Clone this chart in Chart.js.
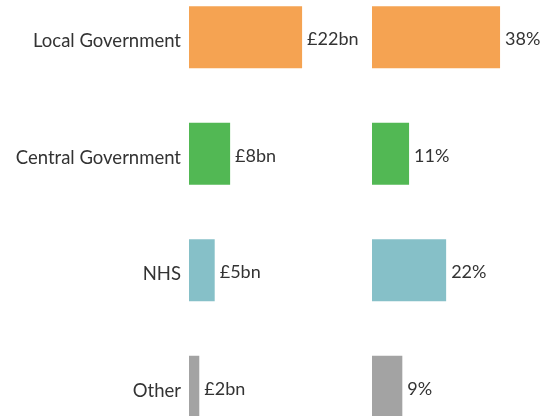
<!DOCTYPE html>
<html lang="en">
<head>
    <meta charset="UTF-8">
    <title>Spending by sector</title>
    <script src="https://cdn.jsdelivr.net/npm/chart.js"></script>
    <style>
        html, body { margin: 0; padding: 0; background: #fff; overflow: hidden; width: 556px; height: 416px; }
        .panel { position: absolute; top: -21px; height: 466px; }
        #leftPanel { left: 0; width: 372px; }
        #rightPanel { left: 372px; width: 184px; }
    </style>
</head>
<body>
    <div class="panel" id="leftPanel"><canvas id="amountChart" width="372" height="466"></canvas></div>
    <div class="panel" id="rightPanel"><canvas id="shareChart" width="184" height="466"></canvas></div>

<script>
const sectors = ['Local Government', 'Central Government', 'NHS', 'Other'];
const amountBn = [22, 8, 5, 2];
const amountLabels = ['£22bn', '£8bn', '£5bn', '£2bn'];
const sharePct = [38, 11, 22, 9];
const shareLabels = ['38%', '11%', '22%', '9%'];
const sectorColors = ['#f5a352', '#52b854', '#86c0c8', '#a3a3a3'];

const textColor = '#333333';
const fontSpec = { family: 'Lato', size: 18.5 };

// write the value text just right of each bar
function valueLabels(labels) {
    return {
        id: 'valueLabels',
        afterDatasetsDraw(chart) {
            const ctx = chart.ctx;
            const meta = chart.getDatasetMeta(0);
            ctx.save();
            ctx.font = '18px Lato';
            ctx.fillStyle = textColor;
            ctx.textAlign = 'left';
            ctx.textBaseline = 'middle';
            meta.data.forEach((bar, i) => {
                ctx.fillText(labels[i], bar.x + 5, bar.y + 2);
            });
            ctx.restore();
        }
    };
}

function makeChart(id, values, labels, xMax, showNames) {
    const ctx = document.getElementById(id).getContext('2d');
    return new Chart(ctx, {
        type: 'bar',
        data: {
            labels: sectors,
            datasets: [{
                data: values,
                backgroundColor: sectorColors,
                borderWidth: 0,
                categoryPercentage: 1,
                barPercentage: 0.532
            }]
        },
        options: {
            indexAxis: 'y',
            responsive: false,
            animation: false,
            layout: { padding: 0 },
            plugins: {
                legend: { display: false },
                tooltip: { enabled: false }
            },
            scales: {
                x: {
                    display: false,
                    min: 0,
                    max: xMax
                },
                y: {
                    display: showNames,
                    grid: { display: false, drawTicks: false },
                    border: { display: false },
                    ticks: { color: textColor, font: fontSpec, padding: 8, labelOffset: 4 },
                    afterFit(scale) {
                        if (!showNames) return;
                        scale.width = 189;
                        scale.paddingTop = 0;
                        scale.paddingBottom = 0;
                    }
                }
            }
        },
        plugins: [valueLabels(labels)]
    });
}

makeChart('amountChart', amountBn, amountLabels, 35.6, true);
makeChart('shareChart', sharePct, shareLabels, 54.6, false);
</script>
</body>
</html>
